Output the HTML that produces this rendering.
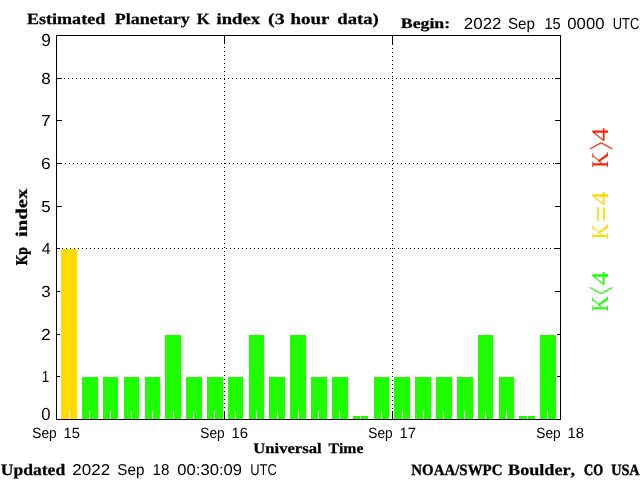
<!DOCTYPE html>
<html lang="en"><head><meta charset="utf-8"><title>Estimated Planetary K index</title>
<style>html,body{margin:0;padding:0;background:#fff;overflow:hidden}svg{display:block}text{font-kerning:none;font-variant-ligatures:none;text-rendering:geometricPrecision}.b{font-family:"Liberation Serif",serif;font-weight:bold;fill:#000}.s{font-family:"Liberation Sans",sans-serif;fill:#000}.l{font-family:"Liberation Serif",serif}</style></head><body>
<svg width="640" height="480" viewBox="0 0 640 480">
<rect width="640" height="480" fill="#fff"/>
<g shape-rendering="crispEdges">
<rect x="61" y="249" width="16" height="170" fill="#ffdc00"/>
<rect x="82" y="377" width="16" height="42" fill="#1eff00"/>
<rect x="103" y="377" width="15" height="42" fill="#1eff00"/>
<rect x="124" y="377" width="15" height="42" fill="#1eff00"/>
<rect x="145" y="377" width="15" height="42" fill="#1eff00"/>
<rect x="165" y="335" width="16" height="84" fill="#1eff00"/>
<rect x="186" y="377" width="16" height="42" fill="#1eff00"/>
<rect x="207" y="377" width="16" height="42" fill="#1eff00"/>
<rect x="228" y="377" width="15" height="42" fill="#1eff00"/>
<rect x="249" y="335" width="15" height="84" fill="#1eff00"/>
<rect x="269" y="377" width="16" height="42" fill="#1eff00"/>
<rect x="290" y="335" width="16" height="84" fill="#1eff00"/>
<rect x="311" y="377" width="16" height="42" fill="#1eff00"/>
<rect x="332" y="377" width="16" height="42" fill="#1eff00"/>
<rect x="353" y="416" width="15" height="3" fill="#1eff00"/>
<rect x="374" y="377" width="15" height="42" fill="#1eff00"/>
<rect x="394" y="377" width="16" height="42" fill="#1eff00"/>
<rect x="415" y="377" width="16" height="42" fill="#1eff00"/>
<rect x="436" y="377" width="16" height="42" fill="#1eff00"/>
<rect x="457" y="377" width="16" height="42" fill="#1eff00"/>
<rect x="478" y="335" width="15" height="84" fill="#1eff00"/>
<rect x="499" y="377" width="15" height="42" fill="#1eff00"/>
<rect x="519" y="416" width="16" height="3" fill="#1eff00"/>
<rect x="540" y="335" width="16" height="84" fill="#1eff00"/>
<rect x="69" y="411" width="1" height="8" fill="#fff"/>
<rect x="89" y="411" width="1" height="8" fill="#fff"/>
<rect x="110" y="411" width="1" height="8" fill="#fff"/>
<rect x="131" y="411" width="1" height="8" fill="#fff"/>
<rect x="152" y="411" width="1" height="8" fill="#fff"/>
<rect x="173" y="411" width="1" height="8" fill="#fff"/>
<rect x="193" y="411" width="1" height="8" fill="#fff"/>
<rect x="214" y="411" width="1" height="8" fill="#fff"/>
<rect x="235" y="411" width="1" height="8" fill="#fff"/>
<rect x="256" y="411" width="1" height="8" fill="#fff"/>
<rect x="277" y="411" width="1" height="8" fill="#fff"/>
<rect x="298" y="411" width="1" height="8" fill="#fff"/>
<rect x="318" y="411" width="1" height="8" fill="#fff"/>
<rect x="339" y="411" width="1" height="8" fill="#fff"/>
<rect x="360" y="416" width="1" height="3" fill="#fff"/>
<rect x="381" y="411" width="1" height="8" fill="#fff"/>
<rect x="402" y="411" width="1" height="8" fill="#fff"/>
<rect x="423" y="411" width="1" height="8" fill="#fff"/>
<rect x="443" y="411" width="1" height="8" fill="#fff"/>
<rect x="464" y="411" width="1" height="8" fill="#fff"/>
<rect x="485" y="411" width="1" height="8" fill="#fff"/>
<rect x="506" y="411" width="1" height="8" fill="#fff"/>
<rect x="527" y="416" width="1" height="3" fill="#fff"/>
<rect x="547" y="411" width="1" height="8" fill="#fff"/>
<rect x="56" y="376" width="4" height="1" fill="#000"/>
<rect x="557" y="376" width="4" height="1" fill="#000"/>
<rect x="56" y="334" width="4" height="1" fill="#000"/>
<rect x="557" y="334" width="4" height="1" fill="#000"/>
<rect x="56" y="291" width="4" height="1" fill="#000"/>
<rect x="555" y="291" width="6" height="1" fill="#000"/>
<rect x="56" y="248" width="4" height="1" fill="#000"/>
<rect x="555" y="248" width="6" height="1" fill="#000"/>
<rect x="56" y="206" width="6" height="1" fill="#000"/>
<rect x="555" y="206" width="6" height="1" fill="#000"/>
<rect x="56" y="163" width="6" height="1" fill="#000"/>
<rect x="555" y="163" width="6" height="1" fill="#000"/>
<rect x="56" y="120" width="6" height="1" fill="#000"/>
<rect x="555" y="120" width="6" height="1" fill="#000"/>
<rect x="56" y="78" width="6" height="1" fill="#000"/>
<rect x="555" y="78" width="6" height="1" fill="#000"/>
<line x1="64" x2="553" y1="78.5" y2="78.5" stroke="#000" stroke-width="1" stroke-dasharray="1 3"/>
<line x1="65" x2="554" y1="163.5" y2="163.5" stroke="#000" stroke-width="1" stroke-dasharray="1 3"/>
<line x1="62" x2="555" y1="248.5" y2="248.5" stroke="#000" stroke-width="1" stroke-dasharray="1 3"/>
<rect x="224" y="35" width="1" height="9" fill="#000"/>
<rect x="224" y="411" width="1" height="9" fill="#000"/>
<rect x="392" y="35" width="1" height="9" fill="#000"/>
<rect x="392" y="411" width="1" height="9" fill="#000"/>
<line y1="47" y2="408" x1="224.5" x2="224.5" stroke="#000" stroke-width="1" stroke-dasharray="1 3"/>
<line y1="44" y2="409" x1="392.5" x2="392.5" stroke="#000" stroke-width="1" stroke-dasharray="1 3"/>
<rect x="56" y="35" width="505" height="1" fill="#000"/>
<rect x="56" y="419" width="505" height="1" fill="#000"/>
<rect x="56" y="35" width="1" height="385" fill="#000"/>
<rect x="560" y="35" width="1" height="385" fill="#000"/>
</g>
<text class="b" font-size="15.57" y="23.6"><tspan x="26.99" textLength="78.21" lengthAdjust="spacingAndGlyphs" stroke="#000" stroke-width="0.25">Estimated</tspan> <tspan x="114.69" textLength="74.98" lengthAdjust="spacingAndGlyphs" stroke="#000" stroke-width="0.25">Planetary</tspan> <tspan x="196.72" textLength="12.91" lengthAdjust="spacingAndGlyphs" stroke="#000" stroke-width="0.25">K</tspan> <tspan x="216.59" textLength="43.51" lengthAdjust="spacingAndGlyphs" stroke="#000" stroke-width="0.25">index</tspan> <tspan x="268.13" textLength="16.55" lengthAdjust="spacingAndGlyphs" stroke="#000" stroke-width="0.25">(3</tspan> <tspan x="290.53" textLength="38.88" lengthAdjust="spacingAndGlyphs" stroke="#000" stroke-width="0.25">hour</tspan> <tspan x="337.24" textLength="41.58" lengthAdjust="spacingAndGlyphs" stroke="#000" stroke-width="0.25">data)</tspan></text>
<text class="b" font-size="14.50" y="27.6"><tspan x="400.80" textLength="49.38" lengthAdjust="spacingAndGlyphs" stroke="#000" stroke-width="0.25">Begin:</tspan></text>
<text class="s" font-size="15.99" y="29"><tspan x="463.85" textLength="37.60" lengthAdjust="spacingAndGlyphs">2022</tspan> <tspan x="508.01" textLength="26.92" lengthAdjust="spacingAndGlyphs">Sep</tspan> <tspan x="544.39" textLength="16.22" lengthAdjust="spacingAndGlyphs">15</tspan> <tspan x="567.35" textLength="37.10" lengthAdjust="spacingAndGlyphs">0000</tspan> <tspan x="612.70" textLength="26.59" lengthAdjust="spacingAndGlyphs">UTC</tspan></text>
<text class="s" font-size="17.44" y="420"><tspan x="41.35" textLength="9.31" lengthAdjust="spacingAndGlyphs">0</tspan></text>
<text class="s" font-size="15.99" y="382"><tspan x="41.78" textLength="7.48" lengthAdjust="spacingAndGlyphs">1</tspan></text>
<text class="s" font-size="15.99" y="340"><tspan x="41.12" textLength="9.77" lengthAdjust="spacingAndGlyphs">2</tspan></text>
<text class="s" font-size="15.99" y="297"><tspan x="41.36" textLength="9.38" lengthAdjust="spacingAndGlyphs">3</tspan></text>
<text class="s" font-size="15.99" y="254"><tspan x="41.64" textLength="8.83" lengthAdjust="spacingAndGlyphs">4</tspan></text>
<text class="s" font-size="15.99" y="212"><tspan x="41.32" textLength="9.38" lengthAdjust="spacingAndGlyphs">5</tspan></text>
<text class="s" font-size="15.99" y="169"><tspan x="41.12" textLength="9.64" lengthAdjust="spacingAndGlyphs">6</tspan></text>
<text class="s" font-size="15.99" y="126"><tspan x="41.10" textLength="9.79" lengthAdjust="spacingAndGlyphs">7</tspan></text>
<text class="s" font-size="15.99" y="84"><tspan x="41.26" textLength="9.48" lengthAdjust="spacingAndGlyphs">8</tspan></text>
<text class="s" font-size="17.44" y="46"><tspan x="41.19" textLength="9.63" lengthAdjust="spacingAndGlyphs">9</tspan></text>
<text class="s" font-size="14.83" y="438"><tspan x="32.28" textLength="24.40" lengthAdjust="spacingAndGlyphs">Sep</tspan> <tspan x="63.57" textLength="16.45" lengthAdjust="spacingAndGlyphs">15</tspan></text>
<text class="s" font-size="14.83" y="438"><tspan x="200.28" textLength="24.40" lengthAdjust="spacingAndGlyphs">Sep</tspan> <tspan x="231.57" textLength="16.48" lengthAdjust="spacingAndGlyphs">16</tspan></text>
<text class="s" font-size="14.83" y="438"><tspan x="368.28" textLength="24.40" lengthAdjust="spacingAndGlyphs">Sep</tspan> <tspan x="399.56" textLength="16.59" lengthAdjust="spacingAndGlyphs">17</tspan></text>
<text class="s" font-size="14.83" y="438"><tspan x="536.28" textLength="24.40" lengthAdjust="spacingAndGlyphs">Sep</tspan> <tspan x="567.57" textLength="16.47" lengthAdjust="spacingAndGlyphs">18</tspan></text>
<text class="b" font-size="14.50" y="453"><tspan x="253.29" textLength="68.30" lengthAdjust="spacingAndGlyphs" stroke="#000" stroke-width="0.25">Universal</tspan> <tspan x="328.45" textLength="34.95" lengthAdjust="spacingAndGlyphs" stroke="#000" stroke-width="0.25">Time</tspan></text>
<text class="b" font-size="16.03" y="475"><tspan x="0.76" textLength="64.43" lengthAdjust="spacingAndGlyphs" stroke="#000" stroke-width="0.25">Updated</tspan></text>
<text class="s" font-size="15.70" y="475.3"><tspan x="72.35" textLength="37.81" lengthAdjust="spacingAndGlyphs">2022</tspan> <tspan x="117.31" textLength="27.13" lengthAdjust="spacingAndGlyphs">Sep</tspan> <tspan x="152.54" textLength="16.92" lengthAdjust="spacingAndGlyphs">18</tspan> <tspan x="177.35" textLength="64.74" lengthAdjust="spacingAndGlyphs">00:30:09</tspan> <tspan x="250.20" textLength="26.59" lengthAdjust="spacingAndGlyphs">UTC</tspan></text>
<text class="b" font-size="15.73" y="475"><tspan x="411.32" textLength="91.12" lengthAdjust="spacingAndGlyphs" stroke="#000" stroke-width="0.33">NOAA/SWPC</tspan> <tspan x="508.10" textLength="66.99" lengthAdjust="spacingAndGlyphs" stroke="#000" stroke-width="0.25">Boulder,</tspan> <tspan x="584.08" textLength="19.04" lengthAdjust="spacingAndGlyphs" stroke="#000" stroke-width="0.56">CO</tspan> <tspan x="611.14" textLength="28.56" lengthAdjust="spacingAndGlyphs" stroke="#000" stroke-width="0.40">USA</tspan></text>
<text class="b" font-size="16.34" transform="translate(27,265.1) rotate(-90)" y="0"><tspan x="-0.23" textLength="17.98" lengthAdjust="spacingAndGlyphs" stroke="#000" stroke-width="0.53">Kp</tspan> <tspan x="28.15" textLength="48.27" lengthAdjust="spacingAndGlyphs" stroke="#000" stroke-width="0.25">index</tspan></text>
<text class="l" font-size="24.0" fill="#ff1e00" transform="translate(608,167.3) rotate(-90)" y="0"><tspan x="-0.65" textLength="16.17" lengthAdjust="spacingAndGlyphs">K</tspan><tspan x="17.81" textLength="7.64" lengthAdjust="spacingAndGlyphs" font-size="50.79" dy="10.11">&gt;</tspan><tspan x="26.17" textLength="13.55" lengthAdjust="spacingAndGlyphs" dy="-10.11">4</tspan></text>
<text class="l" font-size="24.0" fill="#ffdc00" transform="translate(608,238.8) rotate(-90)" y="0"><tspan x="-0.62" textLength="15.65" lengthAdjust="spacingAndGlyphs">K</tspan><tspan x="16.80" textLength="15.88" lengthAdjust="spacingAndGlyphs" font-size="30.00" dy="2.71" stroke="#ffdc00" stroke-width="0.4">=</tspan><tspan x="33.46" textLength="13.77" lengthAdjust="spacingAndGlyphs" dy="-2.71">4</tspan></text>
<text class="l" font-size="24.0" fill="#1eff00" transform="translate(608,311) rotate(-90)" y="0"><tspan x="-0.63" textLength="15.86" lengthAdjust="spacingAndGlyphs">K</tspan><tspan x="16.30" textLength="7.88" lengthAdjust="spacingAndGlyphs" font-size="50.79" dy="10.11">&lt;</tspan><tspan x="25.66" textLength="13.77" lengthAdjust="spacingAndGlyphs" dy="-10.11">4</tspan></text>
</svg></body></html>
